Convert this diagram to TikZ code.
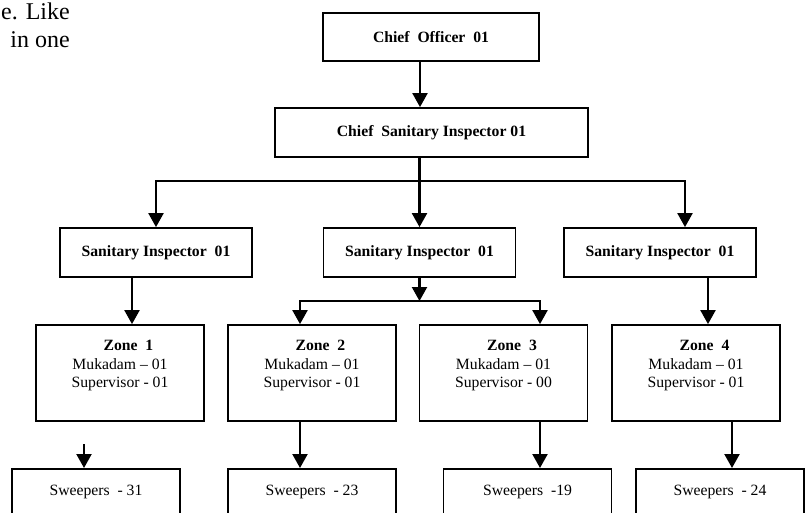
\documentclass[tikz,border=0pt]{standalone}
\usepackage{fontspec}
\setmainfont{Liberation Serif}
\usetikzlibrary{positioning, arrows.meta}

\begin{document}
\begin{tikzpicture}[x=1pt, y=-1pt, >={Triangle[width=15pt,length=14pt]},
    box/.style={draw, rectangle, line width=1.8pt, inner sep=0pt, align=center, font=\fontsize{15.7}{18.5}\selectfont\bfseries},
    zonebox/.style={draw, rectangle, line width=1.8pt, minimum width=168pt, minimum height=96pt, inner sep=0pt},
    zonetext/.style={inner sep=0pt, align=center, font=\fontsize{15.7}{18.5}\selectfont},
    sweepbox/.style={draw, rectangle, line width=1.8pt, minimum width=168pt, inner xsep=0pt, inner ysep=15pt, text height=12pt, text depth=50pt, font=\fontsize{15.7}{18.5}\selectfont},
    link/.style={->, line width=2.2pt}]
        % page size and cut at the lower edge
        \useasboundingbox (0,0) rectangle (808,513);
        \clip (0,0) rectangle (808,513);

        % Text of the page around the chart
        \node[anchor=north east, align=right, inner sep=0pt, font=\fontsize{24}{28}\selectfont] (pagetext) at (70,3) {e. Like\\in one};

        % Top of the chart
        \node[box, minimum width=216pt, minimum height=48pt] (co) at (431,37) {Chief\ \ Officer\ \ 01};
        \node[box, minimum width=313pt, minimum height=49pt] (csi) at (431.5,132.5) {Chief\ \ Sanitary Inspector 01};

        % Sanitary inspectors
        \node[box, minimum width=192pt, minimum height=49pt] (si1) at (156,252.5) {Sanitary Inspector\ \ 01};
        \node[box, minimum width=192pt, minimum height=49pt] (si2) at (419.5,252.5) {Sanitary Inspector\ \ 01};
        \node[box, minimum width=192pt, minimum height=49pt] (si3) at (660,252.5) {Sanitary Inspector\ \ 01};

        % Zones
        \node[zonebox] (z1) at (120,373) {};
        \node[zonebox] (z2) at (312,373) {};
        \node[zonebox] (z3) at (503.5,373) {};
        \node[zonebox] (z4) at (696,373) {};
        \node[zonetext, below=16pt of z1.north] (z1t) {\hspace*{17pt}\textbf{Zone\ \ 1}\\Mukadam – 01\\Supervisor - 01};
        \node[zonetext, below=16pt of z2.north] (z2t) {\hspace*{17pt}\textbf{Zone\ \ 2}\\Mukadam – 01\\Supervisor - 01};
        \node[zonetext, below=16pt of z3.north] (z3t) {\hspace*{17pt}\textbf{Zone\ \ 3}\\Mukadam – 01\\Supervisor - 00};
        \node[zonetext, below=16pt of z4.north] (z4t) {\hspace*{17pt}\textbf{Zone\ \ 4}\\Mukadam – 01\\Supervisor - 01};

        % Sweepers
        \node[sweepbox, anchor=north] (s1) at (96,468) {Sweepers\ \ - 31};
        \node[sweepbox, anchor=north] (s2) at (312,468) {Sweepers\ \ - 23};
        \node[sweepbox, anchor=north] (s3) at (527.5,468) {Sweepers\ \ -19};
        \node[sweepbox, anchor=north] (s4) at (720,468) {Sweepers\ \ - 24};

        % Arrows
        \coordinate (topbus) at (0,181);
        \coordinate (midbus) at (0,301);
        \coordinate (s1in) at (84,444);
        \draw[link] ([xshift=-11pt]co.south) -- ([xshift=-11pt]co.south |- csi.north);
        \draw[link] (si2.north |- csi.south) -- (si2.north);
        \draw[link] (topbus -| si2.north) -| (si1.north);
        \draw[link] (topbus -| si2.north) -| ([xshift=25pt]si3.north);
        \draw[link] ([xshift=-24pt]si1.south) -- ([xshift=-24pt]si1.south |- z1.north);
        \draw[link] (si2.south) -- (si2.south |- midbus);
        \draw[link] (si2.south |- midbus) -| ([xshift=-12pt]z2.north);
        \draw[link] (si2.south |- midbus) -| ([xshift=36.5pt]z3.north);
        \draw[link] ([xshift=48pt]si3.south) -- ([xshift=48pt]si3.south |- z4.north);
        \draw[link] ([xshift=-12pt]z2.south) -- ([xshift=-12pt]z2.south |- s2.north);
        \draw[link] ([xshift=36.5pt]z3.south) -- ([xshift=36.5pt]z3.south |- s3.north);
        \draw[link] ([xshift=36pt]z4.south) -- ([xshift=36pt]z4.south |- s4.north);
        \draw[link] (s1in) -- (s1in |- s1.north);
    \end{tikzpicture}
\end{document}
